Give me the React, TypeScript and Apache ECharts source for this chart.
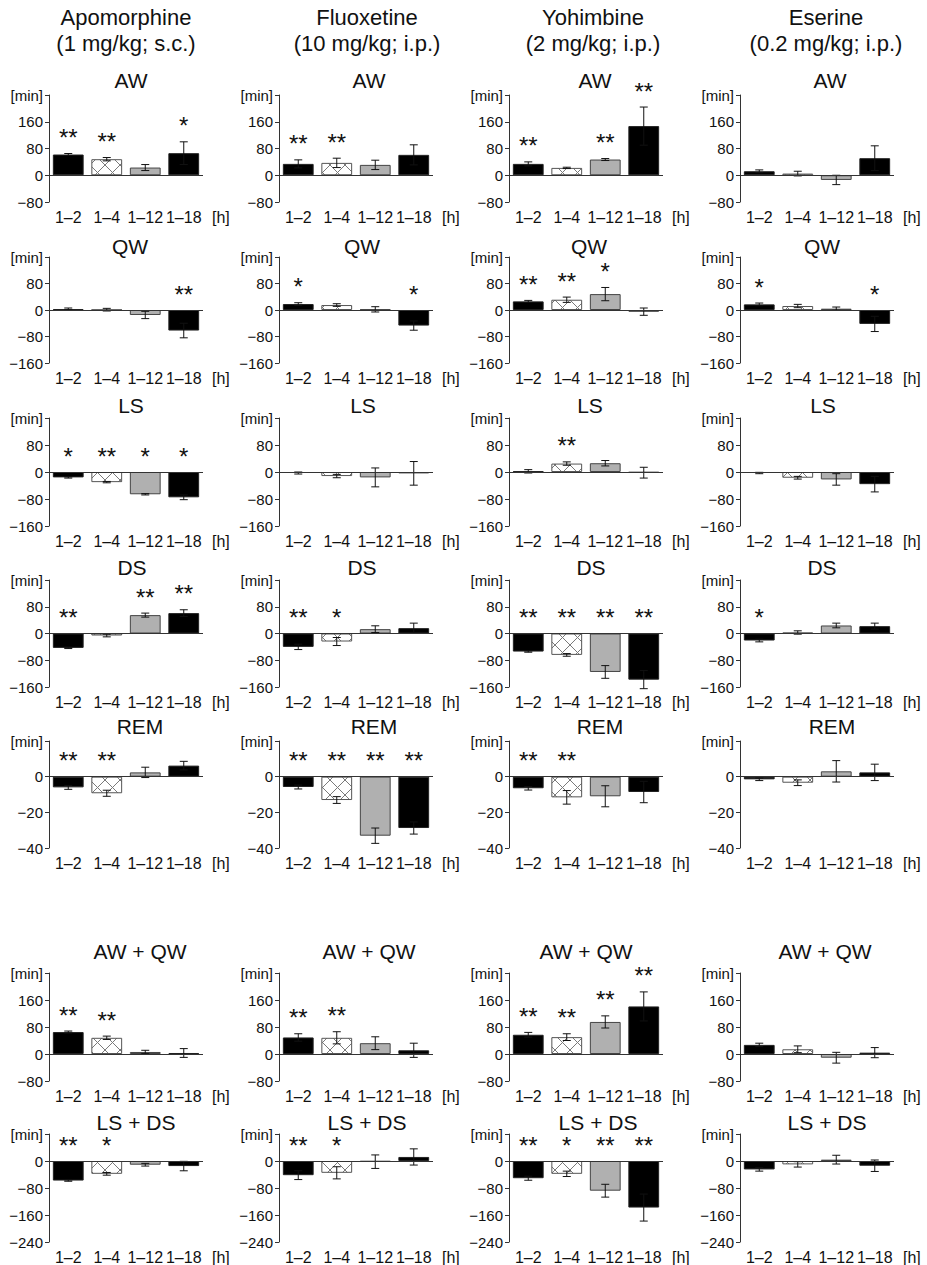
import React, { useEffect, useRef } from 'react';
import * as echarts from 'echarts';

const drugs = ['Apomorphine', 'Fluoxetine', 'Yohimbine', 'Eserine'];
const doses = ['(1 mg/kg; s.c.)', '(10 mg/kg; i.p.)', '(2 mg/kg; i.p.)', '(0.2 mg/kg; i.p.)'];
const periods = ['1–2', '1–4', '1–12', '1–18'];
const measures = ['AW', 'QW', 'LS', 'DS', 'REM', 'AW + QW', 'LS + DS'];

const yMin = [-80, -160, -160, -160, -40, -80, -240];
const yMax = [240, 160, 160, 160, 20, 240, 80];
const yStep = [80, 80, 80, 80, 20, 80, 80];

// values per drug (Apomorphine, Fluoxetine, Yohimbine, Eserine), per period
const awMean = [[62, 48, 23, 66], [34, 37, 31, 61], [34, 22, 47, 147], [12, 5, -14, 51]];
const awSem = [[3, 5, 9, 34], [12, 14, 14, 30], [6, 2, 3, 57], [4, 7, 14, 37]];
const awSig = [['**', '**', '', '*'], ['**', '**', '', ''], ['**', '', '**', '**'], ['', '', '', '']];

const qwMean = [[3, 1, -15, -62], [18, 15, 2, -47], [26, 31, 48, -5], [17, 12, 4, -42]];
const qwSem = [[3, 4, 11, 22], [4, 4, 8, 14], [3, 8, 20, 11], [4, 5, 5, 23]];
const qwSig = [['', '', '', '**'], ['*', '', '', '*'], ['**', '**', '*', ''], ['*', '', '', '*']];

const lsMean = [[-16, -30, -66, -75], [-3, -12, -16, -4], [2, 25, 26, -2], [-3, -17, -22, -36]];
const lsSem = [[2, 2, 2, 7], [3, 5, 28, 35], [5, 5, 8, 16], [2, 4, 17, 23]];
const lsSig = [['*', '**', '*', '*'], ['', '', '', ''], ['', '**', '', ''], ['', '', '', '']];

const dsMean = [[-43, -6, 55, 61], [-40, -24, 13, 16], [-54, -64, -115, -138], [-21, 3, 24, 22]];
const dsSem = [[2, 4, 6, 10], [8, 12, 10, 15], [2, 4, 19, 27], [4, 5, 7, 9]];
const dsSig = [['**', '', '**', '**'], ['**', '*', '', ''], ['**', '**', '**', '**'], ['*', '', '', '']];

const remMean = [[-6.0, -9.3, 2.4, 6.2], [-5.8, -13.1, -33.1, -28.8], [-6.5, -11.6, -11, -8.6], [-1.5, -3.4, 3, 2.4]];
const remSem = [[1.1, 1.7, 2.9, 2.4], [1.1, 1.9, 4.3, 3.4], [1, 3.8, 5.9, 6], [0.7, 1.6, 6, 4.6]];
const remSig = [['**', '**', '', ''], ['**', '**', '**', '**'], ['**', '**', '', ''], ['', '', '', '']];

const awqwMean = [[65, 48, 6, 3], [49, 48, 32, 11], [57, 50, 95, 141], [27, 14, -11, 4]];
const awqwSem = [[3, 5, 5, 13], [11, 18, 19, 21], [7, 10, 18, 43], [5, 10, 16, 15]];
const awqwSig = [['**', '**', '', ''], ['**', '**', '', ''], ['**', '**', '**', '**'], ['', '', '', '']];

const lsdsMean = [[-58, -38, -11, -15], [-42, -35, -2, 12], [-51, -38, -88, -138], [-25, -10, 4, -14]];
const lsdsSem = [[2, 4, 4, 14], [13, 18, 20, 24], [6, 8, 19, 40], [5, 8, 13, 17]];
const lsdsSig = [['**', '*', '', ''], ['**', '*', '', ''], ['**', '*', '**', '**'], ['', '', '', '']];

const meanTable = [awMean, qwMean, lsMean, dsMean, remMean, awqwMean, lsdsMean];
const semTable = [awSem, qwSem, lsSem, dsSem, remSem, awqwSem, lsdsSem];
const sigTable = [awSig, qwSig, lsSig, dsSig, remSig, awqwSig, lsdsSig];

// layout
const FONT = "'Liberation Sans', Arial, sans-serif";
const gridLeft = [49, 279, 509, 740];
const gridWidth = 154;
const rowTop = [95, 257, 418, 580, 741, 973, 1134];
const rowBottom = [202, 363, 526, 687, 848, 1081, 1242];
const titleY = [80, 246, 405, 567, 726, 951, 1122];
const titleX = [
  [131, 369, 595, 830],
  [130, 362, 589, 822],
  [131, 363, 590, 823],
  [132, 362, 591, 822],
  [140, 374, 600, 832],
  [140, 369, 586, 825],
  [136, 367, 598, 827],
];
const headerX = [126, 367, 593, 826];

function makeHatch() {
  const c = document.createElement('canvas');
  c.width = 15;
  c.height = 15;
  const ctx = c.getContext('2d')!;
  ctx.fillStyle = '#ffffff';
  ctx.fillRect(0, 0, 15, 15);
  ctx.strokeStyle = '#7a7a7a';
  ctx.lineWidth = 1;
  ctx.beginPath();
  ctx.moveTo(0, 0);
  ctx.lineTo(15, 15);
  ctx.moveTo(15, 0);
  ctx.lineTo(0, 15);
  ctx.stroke();
  return c;
}

export default function App() {
  const ref = useRef<HTMLDivElement>(null);
  useEffect(() => {
    const chart = echarts.init(ref.current!, null, { renderer: 'svg' });
    const hatch = makeHatch();
    const barStyles = [
      { color: '#000000', borderColor: '#222222', borderWidth: 1 },
      { color: { image: hatch, repeat: 'repeat', imageWidth: 15, imageHeight: 15 }, borderColor: '#555555', borderWidth: 1 },
      { color: '#b0b0b0', borderColor: '#444444', borderWidth: 1 },
      { color: '#000000', borderColor: '#222222', borderWidth: 1 },
    ];
    const grids: any[] = [];
    const xAxes: any[] = [];
    const yAxes: any[] = [];
    const series: any[] = [];
    const graphics: any[] = [];

    drugs.forEach((d, c) => {
      graphics.push({
        type: 'text', x: headerX[c], y: 17,
        style: { text: d, font: `22px ${FONT}`, fill: '#111', align: 'center', verticalAlign: 'middle' },
      });
      graphics.push({
        type: 'text', x: headerX[c], y: 43,
        style: { text: doses[c], font: `22px ${FONT}`, fill: '#111', align: 'center', verticalAlign: 'middle' },
      });
    });

    measures.forEach((m, r) => {
      drugs.forEach((_d, c) => {
        const k = grids.length;
        graphics.push({
          type: 'text', x: titleX[r][c], y: titleY[r],
          style: { text: m, font: `21px ${FONT}`, fill: '#111', align: 'center', verticalAlign: 'middle' },
        });
        grids.push({ left: gridLeft[c], top: rowTop[r], width: gridWidth, height: rowBottom[r] - rowTop[r] });
        xAxes.push({
          gridIndex: k, type: 'category', data: periods, position: 'bottom',
          axisLine: { show: false, onZero: false }, axisTick: { show: false },
          axisLabel: { interval: 0, margin: 7, fontSize: 16, fontFamily: FONT, color: '#111' },
          name: '[h]', nameLocation: 'end', nameGap: 9,
          nameTextStyle: { fontSize: 16, fontFamily: FONT, color: '#111', verticalAlign: 'top', padding: [7, 0, 0, 0] },
        });
        const top = yMax[r];
        yAxes.push({
          gridIndex: k, type: 'value', min: yMin[r], max: yMax[r], interval: yStep[r],
          axisLine: { show: true, lineStyle: { color: '#333', width: 1 } },
          axisTick: { show: true, length: 4, lineStyle: { color: '#333', width: 1 } },
          splitLine: { show: false },
          axisLabel: {
            margin: 6, fontSize: 15, fontFamily: FONT, color: '#111',
            formatter: (v: number) => (v === top ? '[min]' : String(v).replace('-', '−')),
          },
        });
        const means = meanTable[r][c];
        const sems = semTable[r][c];
        const sigs = sigTable[r][c];
        series.push({
          type: 'bar', xAxisIndex: k, yAxisIndex: k, barWidth: '80%', silent: true,
          data: means.map((v, i) => ({ value: v, itemStyle: barStyles[i] })),
          markLine: {
            silent: true, symbol: ['none', 'none'], label: { show: false },
            lineStyle: { color: '#333', type: 'solid', width: 1 },
            data: [{ yAxis: 0 }],
          },
          z: 2,
        });
        series.push({
          type: 'custom', xAxisIndex: k, yAxisIndex: k, clip: false, silent: true, z: 3,
          data: means.map((v, i) => [i, v, sems[i]]),
          renderItem: (params: any, api: any) => {
            const i = api.value(0);
            const v = api.value(1);
            const e = api.value(2);
            const p0 = api.coord([i, v - e]);
            const p1 = api.coord([i, v + e]);
            const x = p0[0];
            const ls = { stroke: '#111', lineWidth: 1 };
            const children: any[] = [
              { type: 'line', shape: { x1: x, y1: p0[1], x2: x, y2: p1[1] }, style: ls },
              { type: 'line', shape: { x1: x - 4, y1: p0[1], x2: x + 4, y2: p0[1] }, style: ls },
              { type: 'line', shape: { x1: x - 4, y1: p1[1], x2: x + 4, y2: p1[1] }, style: ls },
            ];
            const sig = sigs[params.dataIndex];
            if (sig) {
              const pt = api.coord([i, Math.max(0, v + e)]);
              children.push({
                type: 'text', x: x, y: pt[1] - 16,
                style: { text: sig, font: `24px ${FONT}`, fill: '#111', align: 'center', verticalAlign: 'middle' },
              });
            }
            return { type: 'group', children };
          },
        });
      });
    });

    chart.setOption({
      animation: false,
      backgroundColor: '#ffffff',
      grid: grids,
      xAxis: xAxes,
      yAxis: yAxes,
      series,
      graphic: graphics,
    });
    return () => chart.dispose();
  }, []);
  return <div ref={ref} style={{ position: 'absolute', left: 0, top: 0, width: 927, height: 1265 }} />;
}
